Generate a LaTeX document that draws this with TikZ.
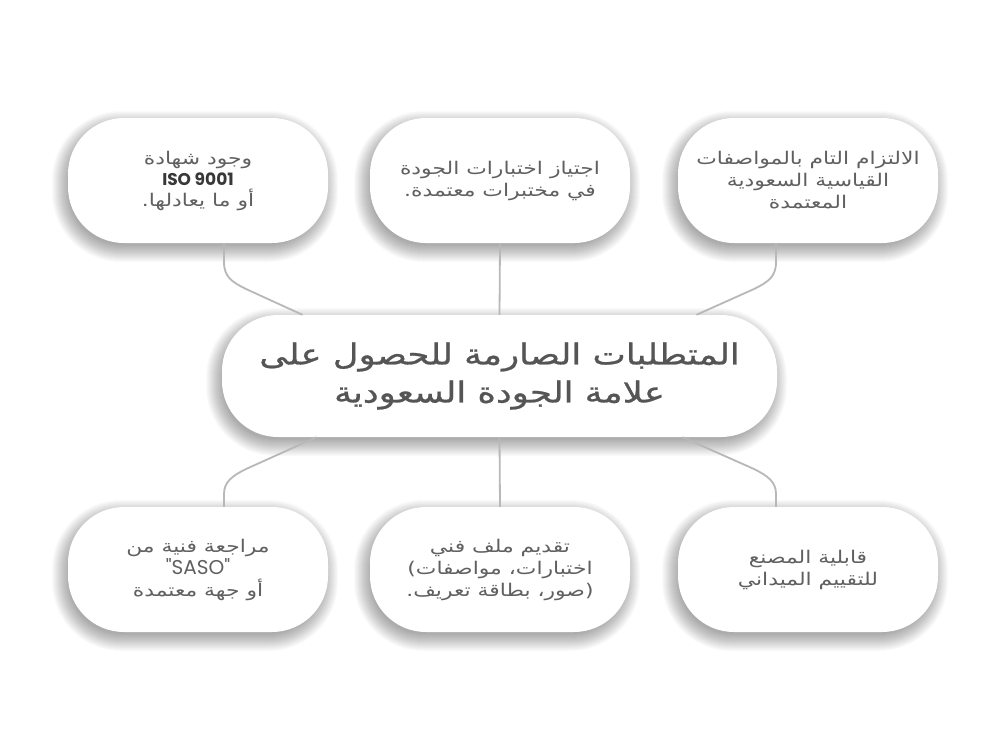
\documentclass[tikz,border=0pt]{standalone}
\usepackage{fontspec}
\TeXXeTstate=1
\newfontfamily\arabicfont[Script=Arabic,FakeStretch=1.25]{DejaVu Sans}
\newfontfamily\arabicbig[Script=Arabic,FakeStretch=1.22,FakeBold=0.8]{DejaVu Sans}
\newfontfamily\popfont{Poppins}
\definecolor{txt}{HTML}{606060}
\definecolor{txtc}{HTML}{555555}
\definecolor{linec}{HTML}{B8B8B8}
\tikzset{
  pill/.style={draw=none, fill=white, rounded corners=56pt, minimum width=260pt, minimum height=125pt,
    align=center, text=txt, font=\arabicfont\fontsize{17.5}{22}\selectfont},
  bigpill/.style={pill, minimum width=555pt, minimum height=122pt, text=txtc,
    font=\arabicbig\fontsize{29}{38}\selectfont},
  conn/.style={draw=linec, line width=1.8pt}
}
\newcommand\pillshadow[5]{%
  \foreach \k in {-4,...,13}{%
    \pgfmathsetmacro\rr{#5+\k}%
    \fill[black,opacity=0.018,rounded corners=\rr pt]
      ({#1-#3/2-\k-3},{#2-#4/2-\k+6}) rectangle ({#1+#3/2+\k-3},{#2+#4/2+\k+6});
  }%
}
\begin{document}
\begin{tikzpicture}[x=1pt,y=-1pt]
\fill[white] (0,0) rectangle (1000,750);
\useasboundingbox (0,0) rectangle (1000,750);

% soft shadows
\pillshadow{198}{180.5}{260}{125}{56}
\pillshadow{500}{180.5}{260}{125}{56}
\pillshadow{808}{180.5}{260}{125}{56}
\pillshadow{499.5}{376}{555}{122}{56}
\pillshadow{198}{569.5}{260}{125}{56}
\pillshadow{500}{569.5}{260}{125}{56}
\pillshadow{808}{569.5}{260}{125}{56}

% nodes
\node[pill] (TL) at (198,180.5) {\beginR وجود شهادة\endR\\[-1pt]
  {\popfont\bfseries\color{black!78}\fontsize{17}{18}\selectfont ISO 9001}\\[-1pt]
  \hbox{.}\beginR أو ما يعادلها\endR};
\node[pill] (TM) at (500,180.5) {\beginR اجتياز اختبارات الجودة\endR\\
  \hbox{.}\beginR في مختبرات معتمدة\endR};
\node[pill] (TR) at (808,180.5) {\beginR الالتزام التام بالمواصفات\endR\\
  \beginR القياسية السعودية\endR\\
  \beginR المعتمدة\endR};
\node[bigpill] (C) at (499.5,376) {\beginR المتطلبات الصارمة للحصول على\endR\\
  \beginR علامة الجودة السعودية\endR};
\node[pill] (BL) at (198,569.5) {\beginR مراجعة فنية من\endR\\
  {\popfont\fontsize{20}{20}\selectfont "SASO"}\\
  \beginR أو جهة معتمدة\endR};
\node[pill] (BM) at (500,569.5) {\beginR تقديم ملف فني\endR\\
  \beginR اختبارات\hbox{،} مواصفات\hbox{)}\endR\\
  \beginR\hbox{(}صور\hbox{،} بطاقة تعريف\hbox{.}\endR};
\node[pill] (BR) at (808,569.5) {\beginR قابلية المصنع\endR\\
  \beginR للتقييم الميداني\endR};

% bend points
\coordinate (a1) at (224,262); \coordinate (a2) at (246,289);
\coordinate (b1) at (776,262); \coordinate (b2) at (754,289);
\coordinate (c1) at (246,469); \coordinate (c2) at (224,494);
\coordinate (d1) at (754,469); \coordinate (d2) at (776,494);

% connectors
\draw[conn] ([xshift=26pt]TL.south) -- (a1) .. controls (224,277) and (232,282) .. (a2) -- ([xshift=-197pt]C.north);
\draw[conn] (TM.south) -- (C.north);
\draw[conn] ([xshift=-32pt]TR.south) -- (b1) .. controls (776,277) and (768,282) .. (b2) -- ([xshift=197pt]C.north);
\draw[conn] ([xshift=-183pt]C.south) -- (c1) .. controls (232,476) and (224,482) .. (c2) -- ([xshift=26pt]BL.north);
\draw[conn] (C.south) -- (BM.north);
\draw[conn] ([xshift=183pt]C.south) -- (d1) .. controls (768,476) and (776,482) .. (d2) -- ([xshift=-32pt]BR.north);
\end{tikzpicture}
\end{document}
